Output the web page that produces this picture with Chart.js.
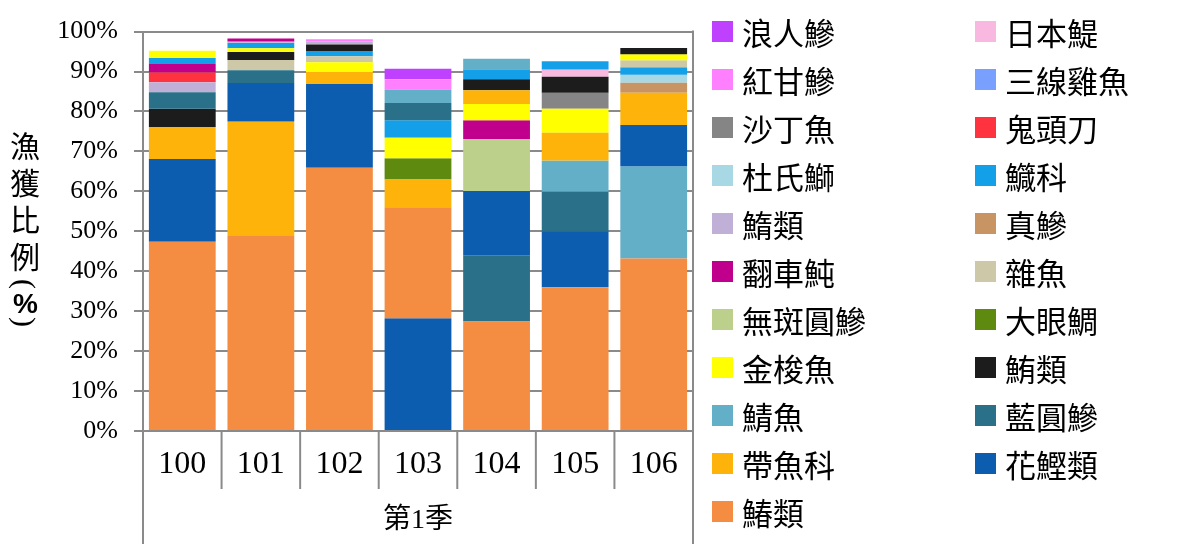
<!DOCTYPE html>
<html>
<head>
<meta charset="utf-8">
<script src="https://cdn.jsdelivr.net/npm/chart.js@4"></script>
<style>
  body { margin: 0; background: #fff; }
  #wrap { position: relative; width: 1200px; height: 544px; }
  #y-title {
    position: absolute; left: 10px; top: 131px;
    writing-mode: vertical-rl;
    text-orientation: mixed;
    font: 30px "Noto Sans CJK TC";
    line-height: 30px;
    color: #000;
  }
  #y-title .chars { letter-spacing: 7px; }
  #y-title .paren { font: 30px "Liberation Serif"; line-height: 30px; }
  #y-title .pct { text-combine-upright: all; font: bold 28px "Liberation Sans"; line-height: 30px; }
  #legend {
    position: absolute; left: 712px; top: 7px;
    display: grid; grid-template-columns: 263px 225px;
  }
  .legend-item { display: flex; align-items: center; height: 48px; font: 31px "Noto Sans CJK TC"; color: #000; }
  .legend-box { width: 21px; height: 21px; margin-right: 9px; }
</style>
</head>
<body>
<div id="wrap">
  <canvas id="catch-chart"></canvas>
  <div id="y-title"><span class="chars">漁獲比例</span><span class="paren">(</span><span class="pct">%</span><span class="paren">)</span></div>
  <div id="legend"></div>
</div>
<script>
const years = ['100', '101', '102', '103', '104', '105', '106'];

// percent of catch, one value per year
const seerFish = [47.4, 48.8, 65.9, 27.8, 27.4, 36.0, 43.2];       // 鰆類
const bonito = [20.7, 9.6, 21.0, 28.2, 16.1, 14.0, 10.3];          // 花鰹類
const hairtail = [8.0, 28.7, 3.0, 7.0, 3.4, 7.0, 8.1];             // 帶魚科
const roundScad = [4.1, 3.2, 0, 4.3, 16.6, 9.9, 0];                // 藍圓鰺
const mackerel = [0, 0, 0, 3.4, 2.6, 7.8, 23.1];                   // 鯖魚
const tuna = [4.6, 2.0, 1.65, 0, 2.8, 4.0, 1.6];                   // 鮪類
const barracuda = [1.8, 0.9, 2.4, 5.1, 4.1, 6.0, 1.5];             // 金梭魚
const bigeye = [0, 0, 0, 5.3, 0, 0, 0];                            // 大眼鯛
const redtailScad = [0, 0, 0, 0, 13.0, 0, 0];                      // 無斑圓鰺
const miscFish = [0, 2.6, 1.55, 0, 0, 0, 1.7];                     // 雜魚
const sunfish = [2.1, 0.8, 0, 0, 4.7, 0, 0];                       // 翻車魨
const jackMackerel = [0, 0, 0, 0, 0, 0, 2.5];                      // 真鰺
const suiFish = [2.5, 0.3, 0.8, 0, 0, 0, 0];                       // 鰖類
const halfbeak = [1.5, 1.4, 1.3, 4.4, 2.5, 2.1, 1.9];              // 鱵科
const amberjack = [0, 0, 0, 0, 0, 0, 2.0];                         // 杜氏鰤
const mahiMahi = [2.5, 0, 0, 0, 0, 0, 0];                          // 鬼頭刀
const sardine = [0, 0, 0, 0, 0, 4.0, 0];                           // 沙丁魚
const grunt = [0, 0, 0, 0, 0, 0, 0];                               // 三線雞魚
const yellowtail = [0, 0, 0.5, 2.6, 0, 0, 0];                      // 紅甘鰺
const anchovy = [0, 0, 0, 0, 0, 1.8, 0];                           // 日本鯷
const trevally = [0, 0, 0, 2.6, 0, 0, 0];                          // 浪人鰺

const seriesNames = ['鰆類', '花鰹類', '帶魚科', '藍圓鰺', '鯖魚', '鮪類', '金梭魚', '大眼鯛', '無斑圓鰺', '雜魚',
    '翻車魨', '真鰺', '鰖類', '鱵科', '杜氏鰤', '鬼頭刀', '沙丁魚', '三線雞魚', '紅甘鰺', '日本鯷', '浪人鰺'];
const seriesValues = [seerFish, bonito, hairtail, roundScad, mackerel, tuna, barracuda, bigeye, redtailScad, miscFish,
    sunfish, jackMackerel, suiFish, halfbeak, amberjack, mahiMahi, sardine, grunt, yellowtail, anchovy, trevally];
const seriesColors = ['#f48c42', '#0c5cb0', '#fdb30a', '#2a7088', '#64afc8', '#1c1c1c', '#ffff00', '#5f8a10', '#bcd08c', '#ccc8a8',
    '#c0008c', '#c89464', '#c0b0d8', '#14a0e8', '#a8d8e4', '#ff3340', '#858585', '#7aa0ff', '#ff80ff', '#f8b8e0', '#bf40ff'];

// stacking order inside each bar, bottom to top
const stackOrders = [
    ['鰆類', '花鰹類', '帶魚科', '鮪類', '藍圓鰺', '鰖類', '鬼頭刀', '翻車魨', '鱵科', '金梭魚'],
    ['鰆類', '帶魚科', '花鰹類', '藍圓鰺', '雜魚', '鮪類', '金梭魚', '鱵科', '鰖類', '翻車魨'],
    ['鰆類', '花鰹類', '帶魚科', '金梭魚', '雜魚', '鱵科', '鮪類', '鰖類', '紅甘鰺'],
    ['花鰹類', '鰆類', '帶魚科', '大眼鯛', '金梭魚', '鱵科', '藍圓鰺', '鯖魚', '紅甘鰺', '浪人鰺'],
    ['鰆類', '藍圓鰺', '花鰹類', '無斑圓鰺', '翻車魨', '金梭魚', '帶魚科', '鮪類', '鱵科', '鯖魚'],
    ['鰆類', '花鰹類', '藍圓鰺', '鯖魚', '帶魚科', '金梭魚', '沙丁魚', '鮪類', '日本鯷', '鱵科'],
    ['鰆類', '鯖魚', '花鰹類', '帶魚科', '真鰺', '杜氏鰤', '鱵科', '雜魚', '金梭魚', '鮪類']
];

const yTicks = [0, 10, 20, 30, 40, 50, 60, 70, 80, 90, 100];

// turn values + order into floating [from, to] segments
const segments = seriesNames.map(() => years.map(() => null));
stackOrders.forEach((order, yi) => {
    let base = 0;
    order.forEach(name => {
        const si = seriesNames.indexOf(name);
        const v = seriesValues[si][yi];
        segments[si][yi] = [base, base + v];
        base += v;
    });
});

const gridColor = '#8a8a8a';

// Excel-style category frame: separators under the axis and right border
const categoryFrame = {
    id: 'categoryFrame',
    afterDraw(chart) {
        const {ctx, chartArea} = chart;
        const n = chart.data.labels.length;
        const step = (chartArea.right - chartArea.left) / n;
        ctx.save();
        ctx.strokeStyle = gridColor;
        ctx.lineWidth = 2;
        for (let i = 0; i <= n; i++) {
            const px = chartArea.left + i * step;
            const outer = i === 0 || i === n;
            ctx.beginPath();
            ctx.moveTo(px, i === n ? chartArea.top - 1 : chartArea.bottom);
            ctx.lineTo(px, outer ? chart.height : chartArea.bottom + 58);
            ctx.stroke();
        }
        ctx.restore();
    }
};

Chart.defaults.color = '#000';

const catchChart = new Chart(document.getElementById('catch-chart'), {
    type: 'bar',
    data: {
        labels: years,
        datasets: seriesNames.map((name, i) => ({
            label: name,
            data: segments[i],
            backgroundColor: seriesColors[i],
            borderWidth: 0,
            grouped: false,
            categoryPercentage: 1,
            barPercentage: 0.85
        }))
    },
    options: {
        responsive: true,
        maintainAspectRatio: false,
        animation: false,
        layout: {
            padding: {left: 0, top: 27, right: 507, bottom: 0}
        },
        scales: {
            x: {
                grid: {drawOnChartArea: false, drawTicks: false},
                border: {color: gridColor, width: 2},
                ticks: {
                    padding: 14,
                    font: {family: 'Liberation Serif', size: 32}
                },
                title: {
                    display: true,
                    text: '第1季',
                    padding: {top: 0, bottom: 7},
                    font: {family: "'Liberation Serif', 'Noto Sans CJK TC'", size: 28}
                },
                afterFit: scale => { scale.height = 113; }
            },
            y: {
                stacked: false,
                min: 0,
                max: 100,
                afterBuildTicks: scale => { scale.ticks = yTicks.map(v => ({value: v})); },
                grid: {color: gridColor, lineWidth: 2, tickLength: 9},
                border: {color: gridColor, width: 2},
                ticks: {
                    padding: 16,
                    callback: v => v + '%',
                    font: {family: 'Liberation Serif', size: 26}
                },
                afterFit: scale => { scale.width = 143; }
            }
        },
        plugins: {
            legend: {display: false},
            tooltip: {enabled: false}
        }
    },
    plugins: [categoryFrame]
});

// two-column legend, Excel order (last series first)
const legendBox = document.getElementById('legend');
for (let i = seriesNames.length - 1; i >= 0; i--) {
    const item = document.createElement('div');
    item.className = 'legend-item';
    item.innerHTML = `<span class="legend-box" style="background:${seriesColors[i]}"></span>${seriesNames[i]}`;
    legendBox.appendChild(item);
}
</script>
</body>
</html>
